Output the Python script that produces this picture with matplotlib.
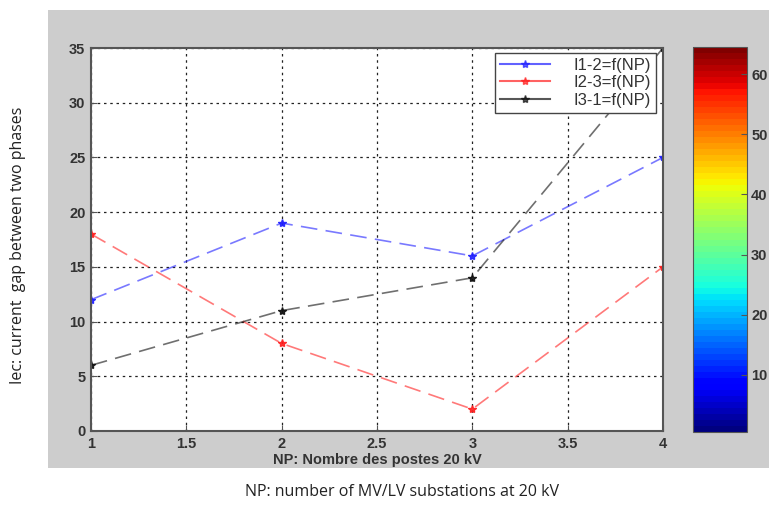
import numpy as np
import matplotlib.pyplot as plt
from matplotlib.patches import Rectangle
from matplotlib.colors import Normalize
from matplotlib.cm import ScalarMappable

np_values = [1, 2, 3, 4]
i12 = [12, 19, 16, 25]
i23 = [18, 8, 2, 15]
i31 = [6, 11, 14, 35]
series_labels = ["I1-2=f(NP)", "I2-3=f(NP)", "I3-1=f(NP)"]
series_colors = ["#2020ff", "#ff2020", "#101010"]
x_ticks = [1, 1.5, 2, 2.5, 3, 3.5, 4]
y_ticks = [0, 5, 10, 15, 20, 25, 30, 35]
cbar_ticks = [10, 20, 30, 40, 50, 60]

W, H = 769, 517
fig = plt.figure(figsize=(W / 100, H / 100), dpi=100)
fig.patch.set_facecolor("white")

# grey figure panel behind the plot
fig.patches.append(Rectangle((48 / W, 1 - 468 / H), (W - 48) / W, (468 - 10) / H,
                             transform=fig.transFigure, facecolor="#cdcdcd",
                             edgecolor="none", zorder=-5))

tick_font = dict(family="Liberation Sans", size=10.5, weight="bold", color="#333333")

ax = fig.add_axes([91 / W, 1 - 431 / H, (663 - 91) / W, (431 - 48) / H])
ax.set_facecolor("white")
for ys, c, lab in zip([i12, i23, i31], series_colors, series_labels):
    ax.plot(np_values, ys, ls=(0, (10, 5)), color=c, alpha=0.6, lw=1.2)
    ax.plot(np_values, ys, ls="none", marker="*", color=c, ms=6, alpha=0.9)
    ax.plot([], [], ls="-", color=c, alpha=0.7, marker="*", ms=6, label=lab)

ax.set_xlim(1, 4)
ax.set_ylim(0, 35)
ax.set_xticks(x_ticks)
ax.set_xticklabels(["1", "1.5", "2", "2.5", "3", "3.5", "4"], fontdict=tick_font)
ax.set_yticks(y_ticks)
ax.set_yticklabels([str(v) for v in y_ticks], fontdict=tick_font)
ax.grid(True, color="#222222", ls=(0, (2, 3)), lw=0.9)
ax.tick_params(direction="in", length=4, color="#555555", pad=4)
for s in ax.spines.values():
    s.set_color("#555555")
    s.set_linewidth(1.5)
ax.set_xlabel("NP: Nombre des postes 20 kV", fontdict=dict(family="Liberation Sans", size=10.5,
              weight="bold", color="#333333"), labelpad=2)

leg = ax.legend(loc="upper right", bbox_to_anchor=(0.988, 0.988), fancybox=False,
                framealpha=1, edgecolor="#444444", prop=dict(family="Liberation Sans", size=12),
                handlelength=3.0, borderpad=0.3, labelspacing=0.15, handletextpad=1.4,
                borderaxespad=0)
leg.get_frame().set_linewidth(1.0)
for t in leg.get_texts():
    t.set_color("#333333")

# colorbar with the 64-level jet map
cax = fig.add_axes([693 / W, 1 - 432 / H, (747 - 693) / W, (432 - 47) / H])
sm = ScalarMappable(norm=Normalize(vmin=0.5, vmax=64.5), cmap=plt.get_cmap("jet", 64))
cb = fig.colorbar(sm, cax=cax, ticks=cbar_ticks)
cb.ax.set_yticklabels([str(v) for v in cbar_ticks], fontdict=tick_font)
cb.ax.tick_params(direction="in", length=4, color="#555555", pad=3)
cb.outline.set_edgecolor("#555555")

fig.text(18 / W, 1 - 245 / H, "Iec: current  gap between two phases", rotation=90,
         ha="center", va="center", family="Open Sans", size=11.5, color="#222222")
fig.text(402 / W, 1 - 492 / H, "NP: number of MV/LV substations at 20 kV",
         ha="center", va="center", family="Open Sans", size=11.5, color="#222222")

fig.savefig("out.png", dpi=100)
